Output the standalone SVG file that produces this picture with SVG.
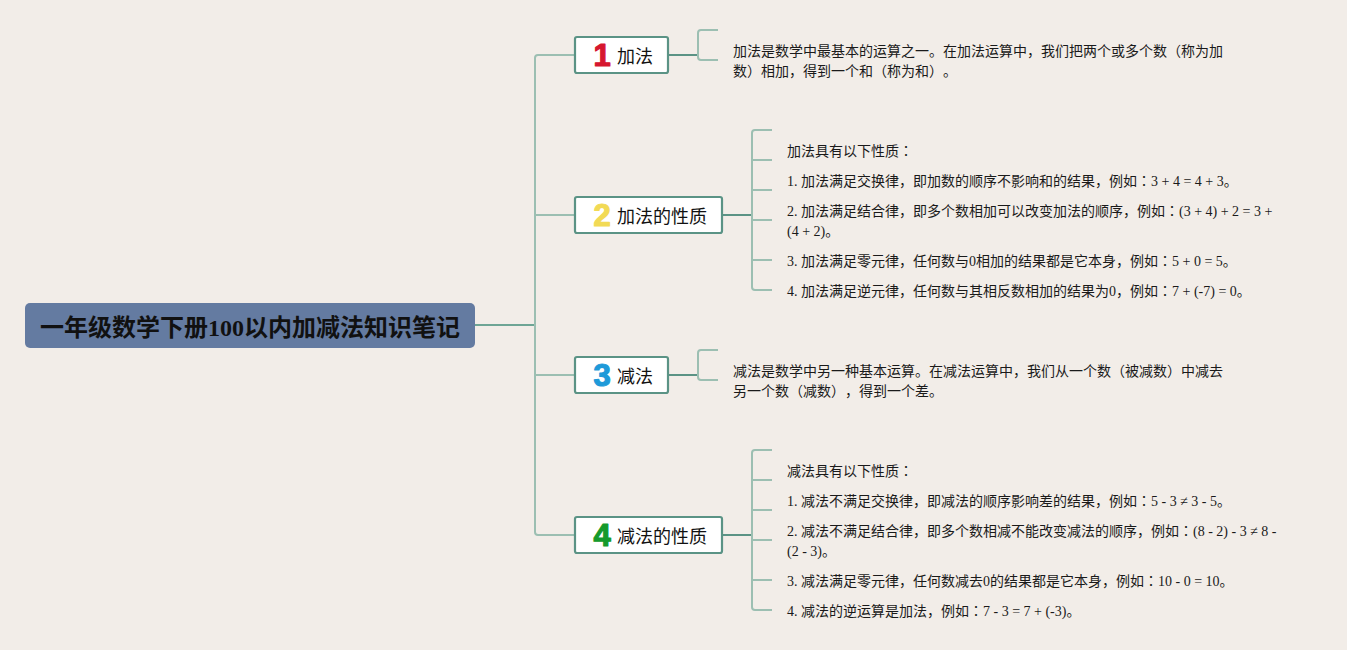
<svg xmlns="http://www.w3.org/2000/svg" width="1347" height="650" viewBox="0 0 1347 650">
<style>
text{font-family:"Liberation Serif","Noto Sans CJK SC",serif;fill:#111;text-spacing-trim:space-all}
.t{font-size:14px;fill:#1a1a1a}
.k{font-family:"Noto Sans CJK TC",serif}
.l{font-size:18px;font-family:"Noto Sans CJK SC","Liberation Sans",sans-serif;fill:#111}
.n{font-size:31px;font-weight:700;font-family:"Liberation Sans",sans-serif;text-anchor:middle;stroke-width:1.2;stroke-linejoin:round}
.b{fill:#fff;stroke:#5b9385;stroke-width:2.2}
.c{fill:none;stroke:#9cbfb2;stroke-width:2}
.d{fill:none;stroke:#5b9385;stroke-width:2}
.e{fill:none;stroke:#6ea595;stroke-width:2}
</style>
<rect width="1347" height="650" fill="#f2ede8"/>
<g id="connectors">
<path class="e" d="M475 325H535"/>
<path class="c" d="M575 55H538Q535 55 535 58V532Q535 535 538 535H575M535 215H575M535 375H575"/>
<path class="d" d="M668 55H698"/>
<path class="c" d="M718 30H701Q698 30 698 33V57Q698 60 701 60H718"/>
<path class="d" d="M722 215H752"/>
<path class="c" d="M772 130H755Q752 130 752 133V287Q752 290 755 290H772M752 160H772M752 190H772M752 220H772M752 260H772"/>
<path class="d" d="M668 375H698"/>
<path class="c" d="M718 350H701Q698 350 698 353V377Q698 380 701 380H718"/>
<path class="d" d="M722 535H752"/>
<path class="c" d="M772 450H755Q752 450 752 453V607Q752 610 755 610H772M752 480H772M752 510H772M752 540H772M752 580H772"/>
</g>
<g id="root"><rect x="25" y="303" width="450" height="45" rx="5" fill="#647ba1"/><text x="250" y="336" font-size="24" font-weight="700" text-anchor="middle">一年级数学下册100以内加减法知识笔记</text></g>
<g id="topic1"><rect class="b" x="575" y="37" width="93" height="36" rx="2"/><text class="n" x="602" y="66" style="fill:#d6172f;stroke:#d6172f">1</text><text class="l" x="617" y="63">加法</text></g>
<g id="topic2"><rect class="b" x="575" y="197" width="147" height="36" rx="2"/><text class="n" x="602" y="226" style="fill:#f2da55;stroke:#f2da55">2</text><text class="l" x="617" y="223">加法的性质</text></g>
<g id="topic3"><rect class="b" x="575" y="357" width="93" height="36" rx="2"/><text class="n" x="602" y="386" style="fill:#1e9ad9;stroke:#1e9ad9">3</text><text class="l" x="617" y="383">减法</text></g>
<g id="topic4"><rect class="b" x="575" y="517" width="147" height="36" rx="2"/><text class="n" x="602" y="546" style="fill:#159a2c;stroke:#159a2c">4</text><text class="l" x="617" y="543">减法的性质</text></g>
<g id="desc1"><text class="t" x="733" y="56">加法是数学中最基本的运算之一。在加法运算中，我们把两个或多个数（称为加</text><text class="t" x="733" y="76">数）相加，得到一个和（称为和）。</text></g>
<g id="props-add">
<text class="t" x="787" y="156">加法具有以下性质<tspan class="k">：</tspan></text>
<text class="t" x="787" y="186">1. 加法满足交换律，即加数的顺序不影响和的结果，例如<tspan class="k">：</tspan>3 + 4 = 4 + 3。</text>
<text class="t" x="787" y="216">2. 加法满足结合律，即多个数相加可以改变加法的顺序，例如<tspan class="k">：</tspan>(3 + 4) + 2 = 3 +</text>
<text class="t" x="787" y="236">(4 + 2)。</text>
<text class="t" x="787" y="266">3. 加法满足零元律，任何数与0相加的结果都是它本身，例如<tspan class="k">：</tspan>5 + 0 = 5。</text>
<text class="t" x="787" y="296">4. 加法满足逆元律，任何数与其相反数相加的结果为0，例如<tspan class="k">：</tspan>7 + (-7) = 0。</text>
</g>
<g id="desc3"><text class="t" x="733" y="376">减法是数学中另一种基本运算。在减法运算中，我们从一个数（被减数）中减去</text><text class="t" x="733" y="396">另一个数（减数），得到一个差。</text></g>
<g id="props-sub">
<text class="t" x="787" y="476">减法具有以下性质<tspan class="k">：</tspan></text>
<text class="t" x="787" y="506">1. 减法不满足交换律，即减法的顺序影响差的结果，例如<tspan class="k">：</tspan>5 - 3 ≠ 3 - 5。</text>
<text class="t" x="787" y="536">2. 减法不满足结合律，即多个数相减不能改变减法的顺序，例如<tspan class="k">：</tspan>(8 - 2) - 3 ≠ 8 -</text>
<text class="t" x="787" y="556">(2 - 3)。</text>
<text class="t" x="787" y="586">3. 减法满足零元律，任何数减去0的结果都是它本身，例如<tspan class="k">：</tspan>10 - 0 = 10。</text>
<text class="t" x="787" y="616">4. 减法的逆运算是加法，例如<tspan class="k">：</tspan>7 - 3 = 7 + (-3)。</text>
</g>
</svg>
